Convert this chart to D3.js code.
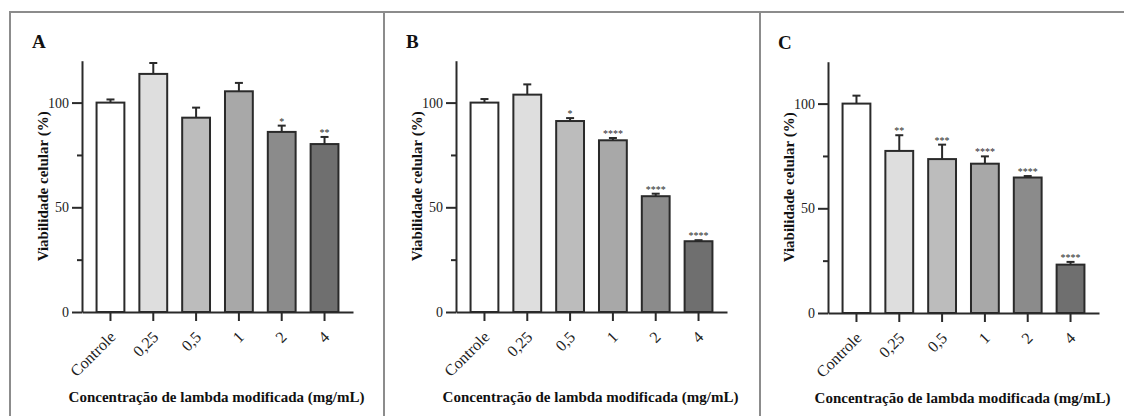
<!DOCTYPE html>
<html>
<head>
<meta charset="utf-8">
<script src="https://cdn.jsdelivr.net/npm/d3@7"></script>
<style>
  body { margin: 0; background: #fff; }
  svg { display: block; }
</style>
</head>
<body>
<svg id="chart" width="1124" height="416"></svg>
<script>
// Concentrations tested (x categories) and y-axis ticks
const categories = ["Controle", "0,25", "0,5", "1", "2", "4"];
const yTicks = [0, 50, 100];
const yMinorTicks = [25, 75];
const panelLabels = ["A", "B", "C"];

// Panel A: mean viability (%), upper error, significance marks
const meansA = [100, 113.7, 92.8, 105.4, 86.0, 80.2];
const errA   = [1.5, 5.2, 4.8, 4.0, 3.0, 3.4];
const sigA   = ["", "", "", "", "*", "**"];

// Panel B
const meansB = [100, 103.8, 91.2, 82.0, 55.3, 33.8];
const errB   = [1.7, 4.9, 1.4, 1.1, 1.2, 0.5];
const sigB   = ["", "", "*", "****", "****", "****"];

// Panel C
const meansC = [100, 77.4, 73.5, 71.3, 64.7, 23.1];
const errC   = [3.8, 7.5, 6.9, 3.5, 0.7, 1.3];
const sigC   = ["", "**", "***", "****", "****", "****"];

const barFills = ["#ffffff", "#dedede", "#bcbcbc", "#a8a8a8", "#8b8b8b", "#6f6f6f"];

const panels = [
  { label: panelLabels[0], means: meansA, err: errA, sig: sigA, ox: 82,  oy: 312 },
  { label: panelLabels[1], means: meansB, err: errB, sig: sigB, ox: 456, oy: 312 },
  { label: panelLabels[2], means: meansC, err: errC, sig: sigC, ox: 828, oy: 313 }
];

const serif = "'Liberation Serif', 'Times New Roman', Tinos, serif";
const svg = d3.select("#chart");
const ink = "#2a2a2a";

// Outer frame and panel dividers
const frame = svg.append("g").attr("stroke", "#8c8c8c").attr("stroke-width", 2);
frame.append("line").attr("x1", 9).attr("x2", 1124).attr("y1", 12).attr("y2", 12);
frame.append("line").attr("x1", 10).attr("x2", 10).attr("y1", 11).attr("y2", 416);
frame.append("line").attr("x1", 384).attr("x2", 384).attr("y1", 11).attr("y2", 416);
frame.append("line").attr("x1", 760).attr("x2", 760).attr("y1", 11).attr("y2", 416);

const plotW = 271;
const x = d3.scaleBand().domain(categories).range([0, plotW])
  .paddingInner(0.35).paddingOuter(0.34);
const y = d3.scaleLinear().domain([0, 120]).range([0, -120 * 2.094]);

panels.forEach(p => {
  const g = svg.append("g").attr("transform", `translate(${p.ox},${p.oy})`);

  // Bars
  g.selectAll("rect.bar").data(categories).join("rect")
    .attr("class", "bar")
    .attr("x", d => x(d))
    .attr("width", x.bandwidth())
    .attr("y", (d, i) => y(p.means[i]))
    .attr("height", (d, i) => y(0) - y(p.means[i]))
    .attr("fill", (d, i) => barFills[i])
    .attr("stroke", ink)
    .attr("stroke-width", 2);

  // Upper error bars
  const eb = g.selectAll("g.err").data(categories).join("g").attr("class", "err")
    .attr("stroke", ink).attr("stroke-width", 2);
  eb.append("line")
    .attr("x1", d => x(d) + x.bandwidth() / 2).attr("x2", d => x(d) + x.bandwidth() / 2)
    .attr("y1", (d, i) => y(p.means[i])).attr("y2", (d, i) => y(p.means[i] + p.err[i]));
  eb.append("line")
    .attr("x1", d => x(d) + x.bandwidth() / 2 - 4).attr("x2", d => x(d) + x.bandwidth() / 2 + 4)
    .attr("y1", (d, i) => y(p.means[i] + p.err[i])).attr("y2", (d, i) => y(p.means[i] + p.err[i]));

  // Significance marks
  g.selectAll("text.sig").data(categories).join("text")
    .attr("class", "sig")
    .attr("x", d => x(d) + x.bandwidth() / 2)
    .attr("y", (d, i) => y(p.means[i] + p.err[i]) - 1)
    .attr("text-anchor", "middle")
    .style("font-family", serif)
    .style("font-size", "10px")
    .attr("fill", ink)
    .text((d, i) => p.sig[i]);

  // Y axis: major and minor ticks
  const yAxis = g.append("g")
    .call(d3.axisLeft(y).tickValues(yTicks).tickSize(10).tickSizeOuter(0).tickPadding(3));
  yAxis.select(".domain").attr("stroke", ink).attr("stroke-width", 2);
  yAxis.selectAll(".tick line").attr("stroke", ink).attr("stroke-width", 2);
  yAxis.selectAll(".tick text")
    .style("font-family", serif).style("font-size", "14px").attr("fill", "#222");

  const yMinor = g.append("g")
    .call(d3.axisLeft(y).tickValues(yMinorTicks).tickSize(5).tickFormat(""));
  yMinor.select(".domain").remove();
  yMinor.selectAll(".tick line").attr("stroke", ink).attr("stroke-width", 2);

  // X axis with rotated category labels
  const xAxis = g.append("g")
    .call(d3.axisBottom(x).tickSize(9).tickSizeOuter(0));
  xAxis.select(".domain").attr("stroke", ink).attr("stroke-width", 2);
  xAxis.selectAll(".tick line").attr("stroke", ink).attr("stroke-width", 2);
  xAxis.selectAll(".tick text")
    .style("font-family", serif).style("font-size", "16px").attr("fill", "#222")
    .attr("text-anchor", "end")
    .attr("dy", null)
    .attr("y", 0)
    .attr("transform", "translate(6,26) rotate(-45)");

  // Panel letter
  g.append("text")
    .attr("x", -50).attr("y", -264)
    .style("font-family", serif).style("font-size", "19px").style("font-weight", "bold")
    .attr("fill", "#111")
    .text(p.label);

  // Axis titles
  g.append("text")
    .attr("transform", `translate(-39,${y(60)}) rotate(-90)`)
    .attr("text-anchor", "middle").attr("dy", "0.35em")
    .style("font-family", serif).style("font-size", "15px").style("font-weight", "bold")
    .attr("fill", "#111")
    .text("Viabilidade celular (%)");

  g.append("text")
    .attr("x", plotW / 2 - 1).attr("y", 90)
    .attr("text-anchor", "middle")
    .style("font-family", serif).style("font-size", "15px").style("font-weight", "bold")
    .attr("fill", "#111")
    .text("Concentração de lambda modificada (mg/mL)");
});
</script>
</body>
</html>
